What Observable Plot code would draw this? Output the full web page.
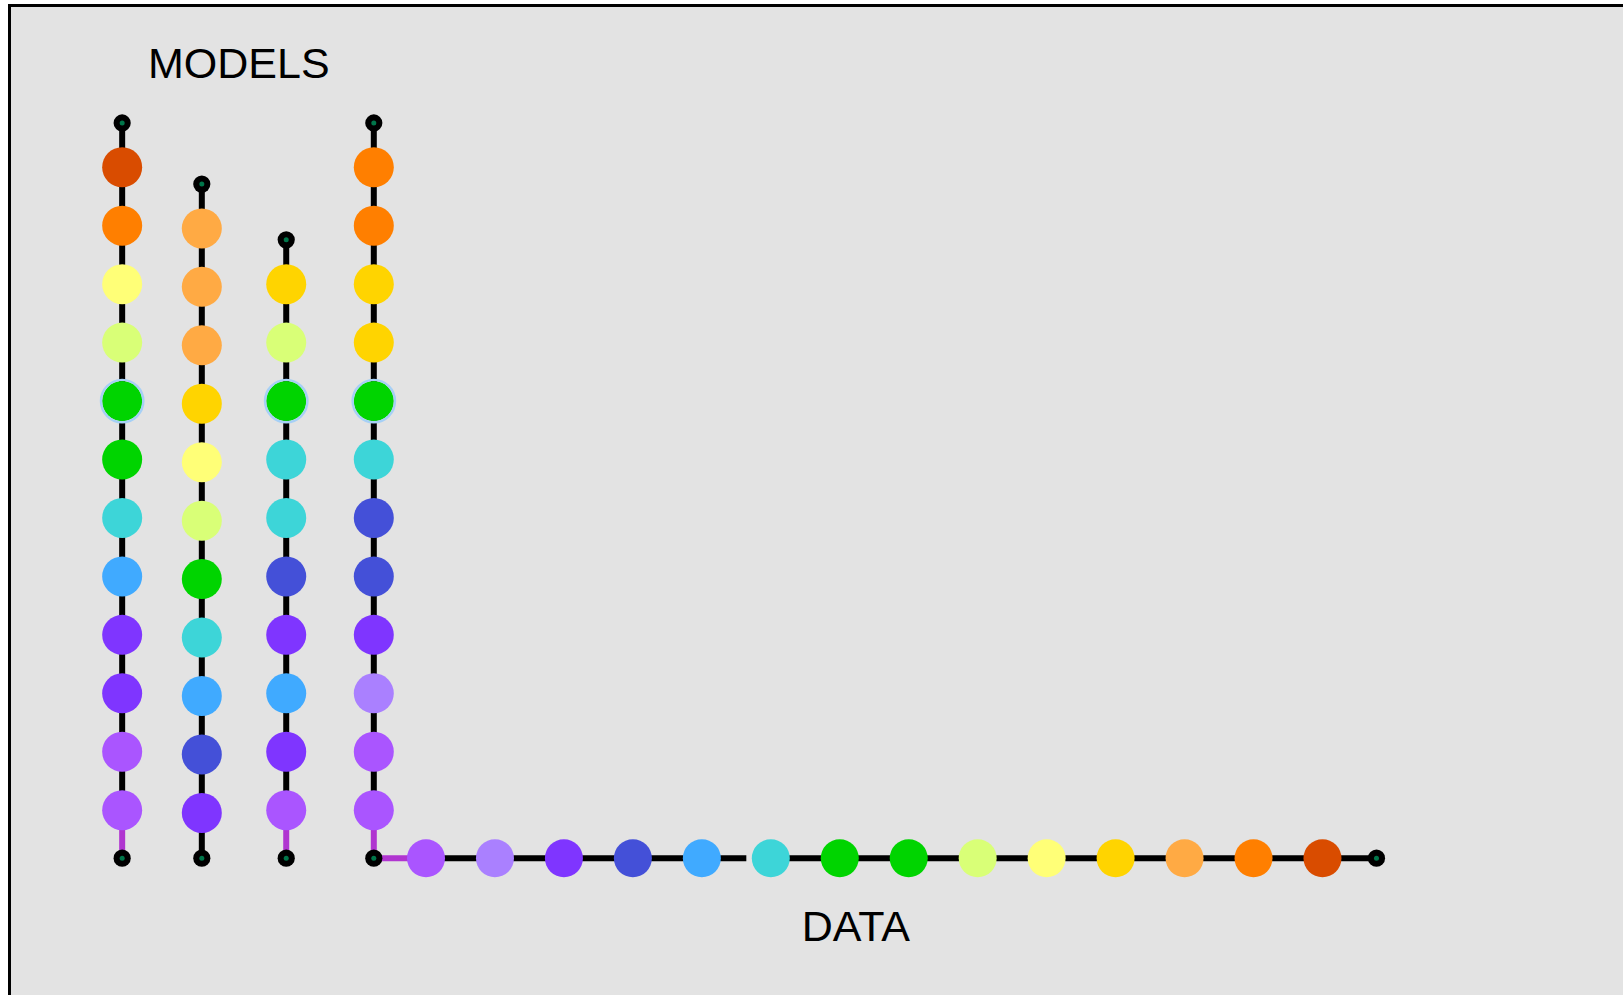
<!DOCTYPE html>
<html>
<head>
<meta charset="utf-8">
<script src="https://cdn.jsdelivr.net/npm/d3@7"></script>
<script src="https://cdn.jsdelivr.net/npm/@observablehq/plot@0.6"></script>
<style>
  html, body { margin: 0; padding: 0; background: #ffffff; overflow: hidden; }
  #frame {
    position: absolute; left: 8px; top: 4px; right: 0; bottom: 0;
    border-left: 3px solid #000; border-top: 3px solid #000;
    background: #e3e3e3;
  }
  #frame svg { display: block; }
</style>
</head>
<body>
<div id="frame"></div>
<script>
// ---------- DATA (node colours, top -> bottom for models, left -> right for data) ----------
const model1 = ["#d94c00", "#ff7f00", "#ffff77", "#d9ff77", "#00d400", "#00d400",
                "#3dd5d8", "#40aaff", "#7f35ff", "#7f35ff", "#aa55ff", "#aa55ff"];
const model2 = ["#ffaa44", "#ffaa44", "#ffaa44", "#ffd400", "#ffff77", "#d9ff77",
                "#00d400", "#3dd5d8", "#40aaff", "#4450d8", "#7f35ff"];
const model3 = ["#ffd400", "#d9ff77", "#00d400", "#3dd5d8", "#3dd5d8",
                "#4450d8", "#7f35ff", "#40aaff", "#7f35ff", "#aa55ff"];
const model4 = ["#ff7f00", "#ff7f00", "#ffd400", "#ffd400", "#00d400", "#3dd5d8",
                "#4450d8", "#4450d8", "#7f35ff", "#aa80ff", "#aa55ff", "#aa55ff"];
const dataSeq = ["#aa55ff", "#aa80ff", "#7f35ff", "#4450d8", "#40aaff", "#3dd5d8", "#00d400",
                 "#00d400", "#d9ff77", "#ffff77", "#ffd400", "#ffaa44", "#ff7f00", "#d94c00"];
// highlighted nodes: [model index, node index from top]
const highlighted = [[0, 4], [2, 2], [3, 4]];
// the data edge (index of its left node) that is drawn broken
const brokenEdges = [4];
const titles = ["MODELS", "DATA"];

// ---------- LAYOUT (abstract units: x = one data step, y = one model row) ----------
const models = [model1, model2, model3, model4];
const W = 1612, H = 988;
const xOriginPx = 362.3, xStepPx = 68.96;   // shared origin, data step
const yOriginPx = 850.7, yStepPx = 58.45;   // data row, model row step
const modelColX = [-3.649, -2.494, -1.270, 0];
const modelColShift = [0, -0.046, 0, 0];
const bottomNodeRow = 0.821, topCapGap = 0.758;
const dataStart = 0.757, dataEndGap = 0.783, brokenShort = 0.355;
const titlePos = [{x: -1.958, y: 13.345}, {x: 6.99, y: -1.420}];
const PURPLE_EDGE = "#b035d0";

const modelNodes = [], endpoints = [], edges = [], halos = [];
const origin = {x: 0, y: 0};
models.forEach((cols, c) => {
  const n = cols.length;
  const pts = cols.map((color, k) => ({
    x: modelColX[c], y: bottomNodeRow + (n - 1 - k) + modelColShift[c], color
  }));
  pts.forEach(p => modelNodes.push(p));
  const top = {x: modelColX[c], y: pts[0].y + topCapGap};
  const bottom = {x: modelColX[c], y: 0};
  endpoints.push(top);
  if (c !== 3) endpoints.push(bottom);
  edges.push({a: top, b: pts[0], stroke: "#000"});
  for (let k = 0; k < n - 1; k++) edges.push({a: pts[k], b: pts[k + 1], stroke: "#000"});
  const last = pts[n - 1];
  edges.push({a: last, b: bottom, stroke: last.color === "#aa55ff" ? PURPLE_EDGE : "#000"});
  highlighted.filter(h => h[0] === c).forEach(h => halos.push(pts[h[1]]));
});
endpoints.push(origin);
const dataNodes = dataSeq.map((color, i) => ({x: dataStart + i, y: 0, color}));
const endCap = {x: dataNodes[dataNodes.length - 1].x + dataEndGap, y: 0};
endpoints.push(endCap);
edges.push({a: origin, b: dataNodes[0], stroke: dataNodes[0].color === "#aa55ff" ? PURPLE_EDGE : "#000"});
for (let i = 0; i < dataNodes.length - 1; i++) {
  const b = brokenEdges.includes(i) ? {x: dataNodes[i + 1].x - brokenShort, y: 0} : dataNodes[i + 1];
  edges.push({a: dataNodes[i], b, stroke: "#000"});
}
edges.push({a: dataNodes[dataNodes.length - 1], b: endCap, stroke: "#000"});
const texts = titles.map((t, i) => ({text: t, ...titlePos[i]}));

const chart = Plot.plot({
  width: W,
  height: H,
  margin: 0,
  x: {domain: [-xOriginPx / xStepPx, (W - xOriginPx) / xStepPx], axis: null},
  y: {domain: [-(H - yOriginPx) / yStepPx, yOriginPx / yStepPx], axis: null},
  color: {type: "identity"},
  style: {background: "transparent", fontFamily: "'Liberation Sans', Arial, sans-serif"},
  marks: [
    Plot.link(edges, {x1: d => d.a.x, y1: d => d.a.y, x2: d => d.b.x, y2: d => d.b.y,
                      stroke: d => d.stroke, strokeWidth: 6}),
    Plot.dot(modelNodes, {x: "x", y: "y", r: 20, fill: "color", stroke: "none"}),
    Plot.dot(dataNodes, {x: "x", y: "y", r: 19, fill: "color", stroke: "none"}),
    Plot.dot(halos, {x: "x", y: "y", r: 21.2, fill: "none", stroke: "#a6d0f6", strokeWidth: 2.4}),
    Plot.dot(endpoints, {x: "x", y: "y", r: 8.6, fill: "#000"}),
    Plot.dot(endpoints, {x: "x", y: "y", r: 2.5, fill: "#00764a"}),
    Plot.text(texts, {x: "x", y: "y", text: "text", fontSize: 43, lineAnchor: "bottom",
                      textAnchor: "middle", fill: "#000"})
  ]
});
chart.style.overflow = "visible";
document.getElementById("frame").appendChild(chart);
</script>
</body>
</html>
